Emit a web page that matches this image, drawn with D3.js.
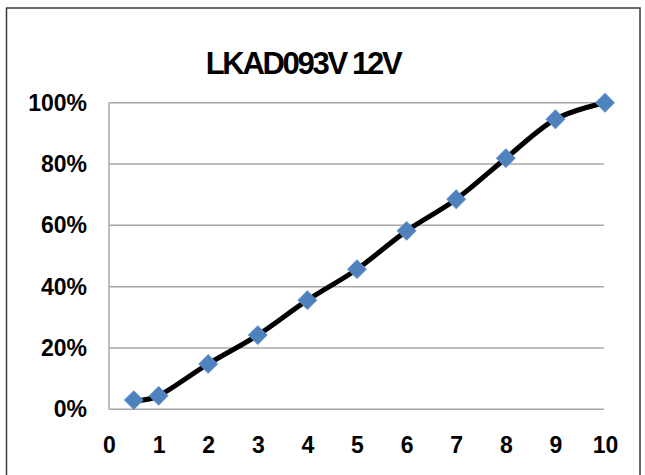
<!DOCTYPE html>
<html>
<head>
<meta charset="utf-8">
<script src="https://cdn.jsdelivr.net/npm/d3@7"></script>
<style>
  html, body { margin: 0; padding: 0; background: #fff; }
  svg { display: block; }
</style>
</head>
<body>
<svg id="chart" width="645" height="475"></svg>
<script>
const title = "LKAD093V 12V";
const xValues = [0.5, 1, 2, 3, 4, 5, 6, 7, 8, 9, 10];
const yValues = [3.0, 4.4, 14.8, 24.2, 35.6, 45.7, 58.2, 68.5, 81.9, 94.6, 100];
const xTicks = [0, 1, 2, 3, 4, 5, 6, 7, 8, 9, 10];
const yTicks = [0, 20, 40, 60, 80, 100];

const svg = d3.select("#chart");

// outer border
svg.append("rect")
  .attr("x", 6.5).attr("y", 8)
  .attr("width", 633.5).attr("height", 480)
  .attr("fill", "none").attr("stroke", "#3a3a3a").attr("stroke-width", 1.5);

const x = d3.scaleLinear().domain([0, 10]).range([109, 605]);
const y = d3.scaleLinear().domain([0, 100]).range([409.3, 102.7]);

// gridlines
svg.append("g").selectAll("line")
  .data(yTicks)
  .join("line")
  .attr("x1", x(0)).attr("x2", 604)
  .attr("y1", d => y(d)).attr("y2", d => y(d))
  .attr("stroke", "#a8a8a8").attr("stroke-width", 1.5);

// left axis line
svg.append("line")
  .attr("x1", x(0)).attr("x2", x(0))
  .attr("y1", y(100)).attr("y2", y(0))
  .attr("stroke", "#a8a8a8").attr("stroke-width", 1.5);

// y axis labels
const yAxis = d3.axisLeft(y).tickValues(yTicks).tickFormat(d => d + "%").tickSize(0).tickPadding(22);
const gy = svg.append("g").attr("transform", `translate(${x(0)},0)`).call(yAxis);
gy.select(".domain").remove();
gy.selectAll("text")
  .attr("font-family", "Liberation Sans, Arial, sans-serif")
  .attr("font-size", 23).attr("font-weight", "bold").attr("fill", "#000");

// x axis labels
const xAxis = d3.axisBottom(x).tickValues(xTicks).tickFormat(d3.format("d")).tickSize(0).tickPadding(27);
const gx = svg.append("g").attr("transform", `translate(0,${y(0)})`).call(xAxis);
gx.select(".domain").remove();
gx.selectAll("text")
  .attr("font-family", "Liberation Sans, Arial, sans-serif")
  .attr("font-size", 23).attr("font-weight", "bold").attr("fill", "#000");

// line
const pts = xValues.map((v, i) => [v, yValues[i]]);
const line = d3.line().x(d => x(d[0])).y(d => y(d[1])).curve(d3.curveCatmullRom.alpha(0));
svg.append("path")
  .datum(pts)
  .attr("d", line)
  .attr("fill", "none").attr("stroke", "#000").attr("stroke-width", 5)
  .attr("stroke-linejoin", "round").attr("stroke-linecap", "round");

// markers
const sym = d3.symbol().type(d3.symbolSquare).size(170);
svg.append("g").selectAll("path")
  .data(pts)
  .join("path")
  .attr("d", sym)
  .attr("transform", d => `translate(${x(d[0])},${y(d[1])}) rotate(45)`)
  .attr("fill", "#4f81bd").attr("stroke", "#5a8cc8").attr("stroke-width", 1);

// title
svg.append("text")
  .attr("x", 303).attr("y", 74)
  .attr("text-anchor", "middle")
  .attr("font-family", "Liberation Sans, Arial, sans-serif")
  .attr("font-size", 31).attr("font-weight", "bold")
  .attr("letter-spacing", "-2.3px")
  .attr("fill", "#000")
  .text(title);
</script>
</body>
</html>
